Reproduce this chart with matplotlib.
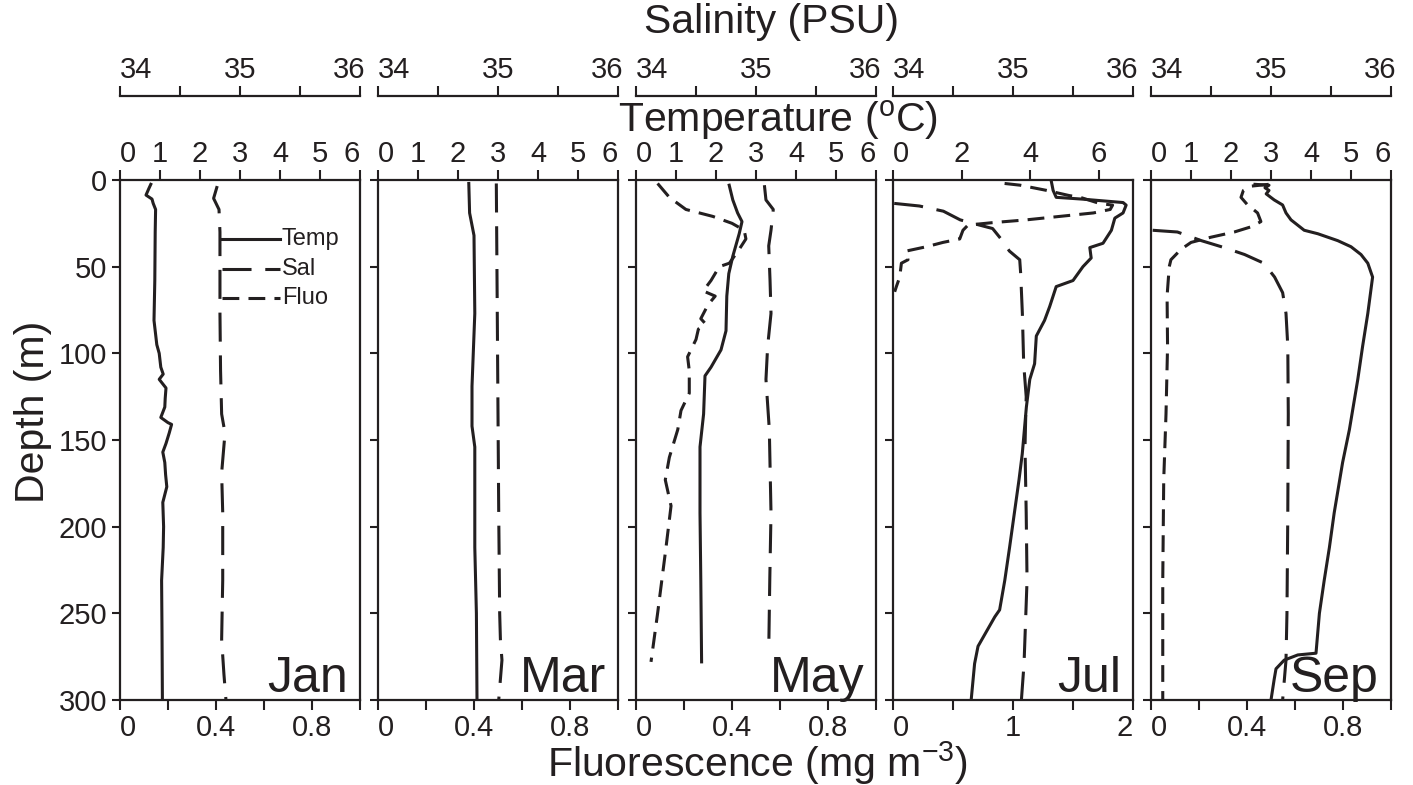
import matplotlib
matplotlib.use('Agg')
import matplotlib.pyplot as plt
from matplotlib.lines import Line2D
from matplotlib.transforms import ScaledTranslation

plt.rcParams['font.family'] = ['Liberation Sans', 'DejaVu Sans']

# ---------------- data ----------------
months = ['Jan', 'Mar', 'May', 'Jul', 'Sep']

jan_temp_depth = [2.5, 5, 8.7, 11, 13.5, 17, 30, 58, 81, 95, 100, 108, 112, 115, 120, 126, 131, 137, 140, 141, 146, 152, 157, 163, 170, 177, 186, 200, 212, 231, 260, 300]
jan_temp = [0.77, 0.72, 0.65, 0.80, 0.83, 0.89, 0.88, 0.87, 0.85, 0.92, 0.98, 1.02, 1.08, 0.98, 1.15, 1.13, 1.12, 1.02, 1.20, 1.29, 1.23, 1.15, 1.07, 1.12, 1.14, 1.17, 1.07, 1.09, 1.08, 1.04, 1.05, 1.06]
jan_sal_depth = [3.5, 10.6, 17, 30, 77, 110, 135, 146, 169, 192, 231, 265, 285, 300]
jan_sal = [34.81, 34.78, 34.825, 34.833, 34.833, 34.838, 34.847, 34.875, 34.847, 34.856, 34.856, 34.847, 34.866, 34.883]

mar_temp_depth = [2, 19, 32, 77, 119, 142, 154, 212, 250, 300]
mar_temp = [2.27, 2.29, 2.40, 2.42, 2.35, 2.35, 2.42, 2.42, 2.46, 2.475]
mar_sal_depth = [2, 77, 192, 250, 265, 277, 300]
mar_sal = [34.986, 34.994, 35.006, 35.014, 35.02, 35.033, 35.006]

may_temp_depth = [3, 11.5, 19, 24, 31, 44, 54, 67, 87, 98, 108, 113, 135, 154, 192, 231, 278]
may_temp = [2.33, 2.42, 2.54, 2.65, 2.58, 2.42, 2.32, 2.27, 2.25, 2.125, 1.875, 1.725, 1.69, 1.60, 1.60, 1.62, 1.64]
may_sal_depth = [3, 11.5, 17, 29, 38, 58, 77, 96, 115, 144, 192, 230, 272]
may_sal = [35.07, 35.083, 35.144, 35.125, 35.106, 35.117, 35.125, 35.097, 35.083, 35.111, 35.125, 35.115, 35.106]
may_fluo_depth = [2, 10, 17, 21, 25, 29, 34, 40, 48, 50, 58, 64, 67, 72, 80, 83, 86, 92, 102, 110, 123, 133, 144, 160, 173, 188, 212, 250, 278]
may_fluo = [0.09, 0.139, 0.208, 0.32, 0.40, 0.451, 0.458, 0.43, 0.389, 0.347, 0.3125, 0.28, 0.33, 0.30, 0.27, 0.29, 0.26, 0.25, 0.215, 0.222, 0.222, 0.1875, 0.174, 0.139, 0.122, 0.146, 0.125, 0.09, 0.0625]

jul_temp_depth = [1, 6, 10, 11, 13, 14.5, 19, 22, 29, 36.5, 39, 45, 50, 58, 61.5, 73, 81, 90, 106, 115, 131, 158, 173, 212, 231, 248, 252, 269, 279, 300]
jul_temp = [4.62, 4.67, 4.76, 5.50, 6.71, 6.80, 6.71, 6.47, 6.37, 6.125, 5.74, 5.78, 5.54, 5.25, 4.76, 4.57, 4.42, 4.18, 4.13, 3.99, 3.89, 3.77, 3.675, 3.40, 3.26, 3.11, 2.97, 2.48, 2.38, 2.28]
jul_sal_depth = [13.5, 15, 18, 23, 26, 28, 34, 41, 46, 54, 77, 106, 125, 154, 192, 231, 279, 300]
jul_sal = [34.01, 34.22, 34.42, 34.56, 34.72, 34.83, 34.90, 34.97, 35.056, 35.064, 35.078, 35.089, 35.11, 35.10, 35.11, 35.117, 35.092, 35.07]
jul_fluo_depth = [2, 3, 6, 9, 10, 13.5, 14.5, 17, 19, 21, 23, 24.6, 26, 29, 34, 36, 38.5, 41, 46, 48, 56, 61.5, 64.5]
jul_fluo = [0.93, 1.06, 1.28, 1.47, 1.56, 1.72, 1.83, 1.81, 1.67, 1.39, 1.11, 0.83, 0.625, 0.583, 0.556, 0.417, 0.278, 0.11, 0.125, 0.07, 0.056, 0.028, 0.014]

sep_temp_depth = [2.5, 3, 4.5, 6, 8, 11.5, 14.4, 19, 23, 29, 31, 35, 38.5, 43, 48, 56, 77, 96, 115, 144, 163, 192, 212, 231, 250, 273, 274, 277, 282, 288, 300]
sep_temp = [2.60, 2.95, 2.85, 2.95, 2.88, 3.08, 3.29, 3.375, 3.50, 3.83, 4.17, 4.67, 5.00, 5.25, 5.42, 5.54, 5.42, 5.29, 5.17, 4.96, 4.79, 4.58, 4.46, 4.33, 4.21, 4.125, 3.67, 3.33, 3.125, 3.08, 3.00]
sep_sal_depth = [29, 30, 35, 39, 43, 48, 56, 65, 77, 96, 135, 192, 250, 277, 300]
sep_sal = [34.014, 34.22, 34.42, 34.61, 34.78, 34.94, 35.03, 35.097, 35.125, 35.14, 35.144, 35.14, 35.133, 35.125, 35.097]
sep_fluo_depth = [2.5, 3.5, 6, 10, 14, 19, 24, 27, 30, 33, 36, 40, 46, 50, 67, 96, 135, 173, 231, 300]
sep_fluo = [0.49, 0.42, 0.385, 0.375, 0.40, 0.444, 0.458, 0.417, 0.347, 0.25, 0.167, 0.125, 0.083, 0.076, 0.067, 0.069, 0.0625, 0.053, 0.049, 0.049]

temp_series = {'Jan': (jan_temp, jan_temp_depth), 'Mar': (mar_temp, mar_temp_depth),
               'May': (may_temp, may_temp_depth), 'Jul': (jul_temp, jul_temp_depth),
               'Sep': (sep_temp, sep_temp_depth)}
sal_series = {'Jan': (jan_sal, jan_sal_depth), 'Mar': (mar_sal, mar_sal_depth),
              'May': (may_sal, may_sal_depth), 'Jul': (jul_sal, jul_sal_depth),
              'Sep': (sep_sal, sep_sal_depth)}
fluo_series = {'May': (may_fluo, may_fluo_depth), 'Jul': (jul_fluo, jul_fluo_depth),
               'Sep': (sep_fluo, sep_fluo_depth)}

temp_max = {'Jan': 6, 'Mar': 6, 'May': 6, 'Jul': 7, 'Sep': 6}
temp_ticks = {'Jan': [0, 1, 2, 3, 4, 5, 6], 'Mar': [0, 1, 2, 3, 4, 5, 6], 'May': [0, 1, 2, 3, 4, 5, 6],
              'Jul': [0, 2, 4, 6], 'Sep': [0, 1, 2, 3, 4, 5, 6]}
fluo_max = {'Jan': 1, 'Mar': 1, 'May': 1, 'Jul': 2, 'Sep': 1}
fluo_major = {'Jan': [0, 0.4, 0.8], 'Mar': [0, 0.4, 0.8], 'May': [0, 0.4, 0.8], 'Jul': [0, 1, 2], 'Sep': [0, 0.4, 0.8]}
fluo_minor = {'Jan': [0.2, 0.6, 1.0], 'Mar': [0.2, 0.6, 1.0], 'May': [0.2, 0.6, 1.0], 'Jul': [0.5, 1.5], 'Sep': [0.2, 0.6, 1.0]}
fluo_labels = {'Jan': ['0', '0.4', '0.8'], 'Mar': ['0', '0.4', '0.8'], 'May': ['0', '0.4', '0.8'],
               'Jul': ['0', '1', '2'], 'Sep': ['0', '0.4', '0.8']}
sal_major = [34, 35, 36]
sal_minor = [34.5, 35.5]
depth_ticks = [0, 50, 100, 150, 200, 250, 300]

# ---------------- figure ----------------
W, H = 1413, 785
fig = plt.figure(figsize=(W / 100, H / 100), dpi=100)
C = '#231f20'
LW = 2.2
SAL_DASH = (0, (9.5, 4.5))
FLUO_DASH = (0, (5.5, 3.0))
TICK = 21
TITLE = 29.5
lefts_px = [120, 378, 636, 893, 1151]
pw, top_px, bot_px = 240, 180, 700
sal_px = 96


def align_edge_labels(axis, lo, hi, right_shift_px=0):
    ticks = axis.get_major_ticks()
    locs = axis.get_majorticklocs()
    for t, v in zip(ticks, locs):
        if abs(v - lo) < 1e-9:
            t.label1.set_horizontalalignment('left')
            t.label2.set_horizontalalignment('left')
        elif abs(v - hi) < 1e-9:
            t.label1.set_horizontalalignment('right')
            t.label2.set_horizontalalignment('right')
            if right_shift_px:
                off = ScaledTranslation(right_shift_px / 100, 0, fig.dpi_scale_trans)
                t.label2.set_transform(t.label2.get_transform() + off)


for m, lp in zip(months, lefts_px):
    ax = fig.add_axes([lp / W, (H - bot_px) / H, pw / W, (bot_px - top_px) / H])
    axf = ax.twiny()
    axs = ax.twiny()

    # temperature: main axis, ticks on top
    ax.set_xlim(0, temp_max[m])
    ax.set_ylim(300, 0)
    ax.xaxis.tick_top()
    ax.set_xticks(temp_ticks[m])
    ax.set_xticklabels([str(t) for t in temp_ticks[m]])
    ax.set_yticks(depth_ticks)
    if m != 'Jan':
        ax.set_yticklabels([])
    ax.tick_params(axis='x', which='both', direction='out', length=7, width=1.5,
                   labelsize=TICK, pad=2, colors=C)
    ax.tick_params(axis='y', direction='out', length=6, width=1.5, labelsize=TICK, pad=3, colors=C)
    for s in ax.spines.values():
        s.set_linewidth(1.6)
        s.set_color(C)

    # fluorescence: bottom axis
    axf.set_xlim(0, fluo_max[m])
    axf.xaxis.set_ticks_position('bottom')
    axf.xaxis.set_label_position('bottom')
    axf.set_xticks(fluo_major[m])
    axf.set_xticklabels(fluo_labels[m])
    axf.set_xticks(fluo_minor[m], minor=True)
    axf.tick_params(axis='x', which='both', direction='out', length=7, width=1.5,
                    labelsize=TICK, pad=3, colors=C)
    for s in axf.spines.values():
        s.set_visible(False)

    # salinity: offset top axis
    axs.set_xlim(34, 36)
    axs.spines['top'].set_position(('axes', (bot_px - sal_px) / (bot_px - top_px)))
    for k in ['bottom', 'left', 'right']:
        axs.spines[k].set_visible(False)
    axs.spines['top'].set_linewidth(1.6)
    axs.spines['top'].set_color(C)
    axs.set_xticks(sal_major)
    axs.set_xticks(sal_minor, minor=True)
    axs.tick_params(axis='x', which='both', direction='out', length=7, width=1.5,
                    labelsize=TICK, pad=2, colors=C)

    # profiles
    tv, td = temp_series[m]
    ax.plot(tv, td, color=C, lw=LW, solid_joinstyle='round')
    sv, sd = sal_series[m]
    axs.plot(sv, sd, color=C, lw=LW, linestyle=SAL_DASH)
    if m in fluo_series:
        fv, fd = fluo_series[m]
        axf.plot(fv, fd, color=C, lw=LW, linestyle=FLUO_DASH)
    axs.set_ylim(300, 0)

    align_edge_labels(ax.xaxis, 0, temp_max[m])
    align_edge_labels(axs.xaxis, 34, 36, right_shift_px=5)
    align_edge_labels(axf.xaxis, 0, fluo_max[m])

    ax.text(0.95, 0.016, m, transform=ax.transAxes, ha='right', va='baseline',
            fontsize=36, color=C)

    if m == 'Jan':
        ys = [(bot_px - y) / (bot_px - top_px) for y in (239, 269, 298)]
        x0, x1 = (222 - lp) / pw, (280 - lp) / pw
        for y, lab, ls in zip(ys, ['Temp', 'Sal', 'Fluo'], ['-', SAL_DASH, FLUO_DASH]):
            ax.add_line(Line2D([x0, x1], [y, y], transform=ax.transAxes, color=C,
                               lw=LW, linestyle=ls))
            ax.text(x1 + 0.008, y, lab, transform=ax.transAxes, ha='left', va='center',
                    fontsize=17, color=C)

fig.text(772 / W, 1 - 22 / H, 'Salinity (PSU)', ha='center', va='center', fontsize=TITLE, color=C)
fig.text(778 / W, 1 - 120 / H, 'Temperature ($\\mathregular{^{o}}$C)', ha='center', va='center',
         fontsize=TITLE, color=C)
fig.text(757 / W, 1 - 763 / H, 'Fluorescence (mg m$\\mathregular{^{-3}}$)', ha='center', va='center',
         fontsize=TITLE, color=C)
fig.text(33 / W, 1 - 412 / H, 'Depth (m)', ha='center', va='center', rotation=90, fontsize=TITLE, color=C)

fig.savefig('out.png', dpi=100)
